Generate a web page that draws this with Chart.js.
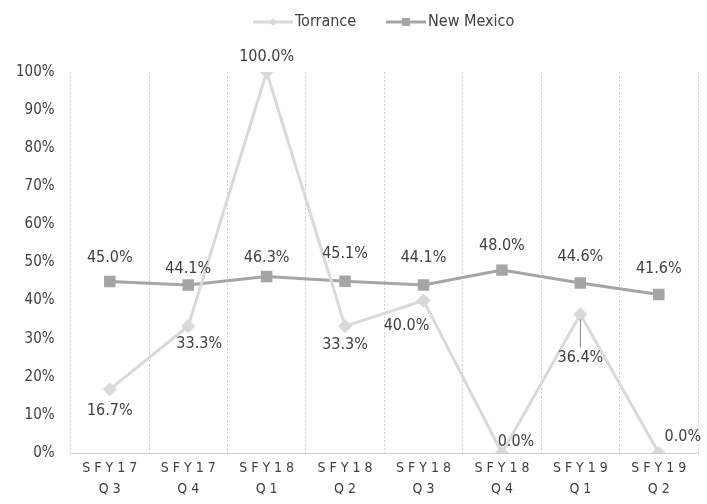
<!DOCTYPE html>
<html lang="en">
<head>
    <meta charset="UTF-8">
    <title>Torrance vs New Mexico</title>
    <script src="https://cdn.jsdelivr.net/npm/chart.js"></script>
    <style>
        html, body { margin: 0; padding: 0; background: #fff; }
        #wrap { width: 707px; height: 504px; }
    </style>
</head>
<body>
<div id="wrap"><canvas id="myChart" width="707" height="504"></canvas></div>

<script>
    // quarters on the x axis (spaced out like the original sheet)
    const quarters = [
        ['S F Y 1 7', 'Q 3'], ['S F Y 1 7', 'Q 4'],
        ['S F Y 1 8', 'Q 1'], ['S F Y 1 8', 'Q 2'],
        ['S F Y 1 8', 'Q 3'], ['S F Y 1 8', 'Q 4'],
        ['S F Y 1 9', 'Q 1'], ['S F Y 1 9', 'Q 2']
    ];
    const torrance = [16.7, 33.3, 100.0, 33.3, 40.0, 0.0, 36.4, 0.0];
    const newMexico = [45.0, 44.1, 46.3, 45.1, 44.1, 48.0, 44.6, 41.6];

    // where each value label sits relative to its point (dx, dy)
    const torranceLabelPos = [[0, 21], [11, 18], [0, -15], [0, 19], [-17, 25], [14, -11], [0, 44], [24, -16]];
    const newMexicoLabelPos = [[0, -24], [0, -16], [0, -19], [0, -27], [0, -27], [0, -24], [0, -26], [0, -26]];

    const FONT = '"Liberation Sans Narrow", "DejaVu Sans Condensed", "Open Sans", sans-serif';
    const LIGHT = '#d9d9d9';
    const DARK = '#a5a5a5';
    const TEXT = '#404040';

    const valueLabels = {
        id: 'valueLabels',
        afterDatasetsDraw(chart) {
            const ctx = chart.ctx;
            ctx.save();
            ctx.font = '16px ' + FONT;
            ctx.fillStyle = TEXT;
            ctx.textAlign = 'center';
            ctx.textBaseline = 'middle';
            const pos = [torranceLabelPos, newMexicoLabelPos];
            chart.data.datasets.forEach((ds, di) => {
                chart.getDatasetMeta(di).data.forEach((pt, i) => {
                    const [dx, dy] = pos[di][i];
                    ctx.fillText(ds.data[i].toFixed(1) + '%', pt.x + dx, pt.y + dy);
                    // leader line when the label is pushed far from its point
                    if (dy > 35) {
                        ctx.strokeStyle = '#808080';
                        ctx.lineWidth = 1;
                        ctx.beginPath();
                        ctx.moveTo(pt.x, pt.y + 5);
                        ctx.lineTo(pt.x, pt.y + dy - 11);
                        ctx.stroke();
                    }
                });
            });
            ctx.restore();
        }
    };

    // legend: line sample with marker in the middle, then the name
    const lineLegend = {
        id: 'lineLegend',
        afterDraw(chart) {
            const ctx = chart.ctx;
            ctx.save();
            ctx.font = '16px ' + FONT;
            ctx.textBaseline = 'middle';
            const y = 22;
            const items = [
                { x: 253, color: LIGHT, text: 'Torrance', marker: 'diamond' },
                { x: 386, color: DARK, text: 'New Mexico', marker: 'square' }
            ];
            items.forEach(it => {
                ctx.strokeStyle = it.color;
                ctx.lineWidth = 3;
                ctx.beginPath();
                ctx.moveTo(it.x, y);
                ctx.lineTo(it.x + 40, y);
                ctx.stroke();
                ctx.fillStyle = it.color;
                const cx = it.x + 20;
                if (it.marker === 'square') {
                    ctx.fillRect(cx - 4, y - 4, 8, 8);
                } else {
                    ctx.beginPath();
                    ctx.moveTo(cx, y - 4);
                    ctx.lineTo(cx + 4, y);
                    ctx.lineTo(cx, y + 4);
                    ctx.lineTo(cx - 4, y);
                    ctx.closePath();
                    ctx.fill();
                }
                ctx.fillStyle = TEXT;
                ctx.fillText(it.text, it.x + 42, y);
            });
            ctx.restore();
        }
    };

    new Chart(document.getElementById('myChart'), {
        type: 'line',
        data: {
            labels: quarters,
            datasets: [
                {
                    label: 'Torrance',
                    data: torrance,
                    borderColor: LIGHT,
                    backgroundColor: LIGHT,
                    borderWidth: 3,
                    pointStyle: 'rectRot',
                    pointRadius: 5,
                    pointHoverRadius: 5,
                    tension: 0
                },
                {
                    label: 'New Mexico',
                    data: newMexico,
                    borderColor: DARK,
                    backgroundColor: DARK,
                    borderWidth: 3,
                    pointStyle: 'rect',
                    pointRadius: 6,
                    pointHoverRadius: 6,
                    tension: 0
                }
            ]
        },
        options: {
            responsive: false,
            animation: false,
            events: [],
            layout: { padding: { top: 72, right: 7, left: 0, bottom: 0 } },
            plugins: {
                legend: { display: false },
                tooltip: { enabled: false }
            },
            scales: {
                x: {
                    offset: true,
                    grid: {
                        offset: true,
                        color: '#d0d0d0',
                        drawTicks: false
                    },
                    border: { color: '#d0d0d0', dash: [2, 2] },
                    ticks: {
                        color: TEXT,
                        font: { family: FONT, size: 14, lineHeight: 1.5 },
                        padding: 4.5,
                        maxRotation: 0
                    }
                },
                y: {
                    min: 0,
                    max: 100,
                    grid: { display: false, drawTicks: false },
                    border: { display: false },
                    ticks: {
                        stepSize: 10,
                        color: TEXT,
                        font: { family: FONT, size: 15 },
                        padding: 16,
                        callback: v => v + '%'
                    }
                }
            }
        },
        plugins: [valueLabels, lineLegend]
    });
</script>
</body>
</html>
